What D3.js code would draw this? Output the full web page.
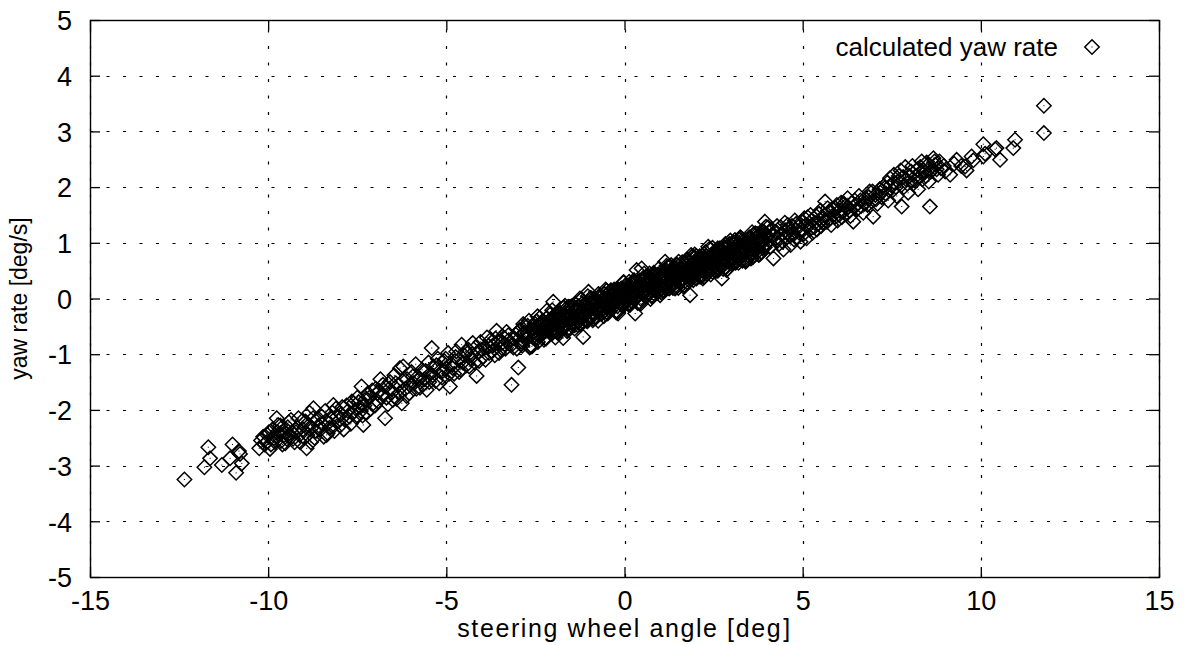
<!DOCTYPE html>
<html>
<head>
<meta charset="utf-8">
<script src="https://cdn.jsdelivr.net/npm/d3@7"></script>
<style>
  html, body { margin: 0; padding: 0; background: #fff; }
  svg { display: block; }
  text { font-family: "Liberation Sans", Arial, sans-serif; fill: #000; }
</style>
</head>
<body>
<svg id="chart" width="1186" height="645"></svg>
<script>
// Axis ticks
const xTicks = [-15, -10, -5, 0, 5, 10, 15];
const yTicks = [-5, -4, -3, -2, -1, 0, 1, 2, 3, 4, 5];

// Steering wheel angle [deg] vs. calculated yaw rate [deg/s]
const tailLeft = [
  [-12.35,-3.25],[-11.68,-2.67],[-11.63,-2.87],[-11.79,-3.03],[-11.30,-2.99],[-11.07,-2.87],
  [-11.00,-2.62],[-10.79,-2.79],[-10.74,-2.96],[-10.90,-3.13],[-10.82,-2.74]
];
const bandLow = [
  [-10.25,-2.69],[-10.14,-2.48],[-10.05,-2.58],[-9.98,-2.40],[-9.92,-2.62],[-9.85,-2.51],[-9.76,-2.15],
  [-9.72,-2.27],[-9.70,-2.45],[-9.64,-2.56],[-9.58,-2.38],[-9.52,-2.60],[-9.45,-2.31],[-9.40,-2.47],
  [-9.36,-2.18],[-9.30,-2.52],[-9.22,-2.40],[-9.15,-2.15],[-9.10,-2.58],[-9.02,-2.35],[-8.95,-2.21],
  [-8.92,-2.69],[-8.90,-2.45],[-8.84,-2.05],[-8.78,-2.32],[-8.73,-1.97],[-8.70,-2.50],[-8.62,-2.18],
  [-8.55,-2.36],[-8.48,-2.25],[-8.40,-2.02],[-8.36,-2.45],[-8.33,-2.42],[-8.25,-2.15],[-8.18,-2.30],
  [-8.17,-1.91],[-8.10,-1.98],[-8.02,-2.20],[-7.95,-2.08],[-7.88,-2.35],[-7.80,-1.92],[-7.72,-2.12],
  [-7.65,-1.85],[-7.58,-2.02],[-7.50,-1.78],[-7.42,-1.95],[-7.38,-1.58],[-7.35,-2.10],[-7.33,-2.27],
  [-7.28,-1.82],[-7.20,-1.70],[-7.12,-1.98],[-7.05,-1.88],
  [-10.20,-2.55],[-10.10,-2.62],[-10.02,-2.45],[-9.95,-2.70],[-9.88,-2.35],[-9.80,-2.58],[-9.74,-2.40],
  [-9.66,-2.28],[-9.60,-2.62],[-9.55,-2.45],[-9.48,-2.52],[-9.42,-2.22],[-9.34,-2.40],[-9.26,-2.58],
  [-9.18,-2.32],[-9.12,-2.45],[-9.05,-2.20],[-8.98,-2.50],[-8.86,-2.28],[-8.80,-2.58],[-8.74,-2.15],
  [-8.66,-2.38],[-8.58,-2.28],[-8.50,-2.12],[-8.44,-2.48],[-8.38,-2.20],[-8.28,-2.32],[-8.20,-2.05],
  [-8.14,-2.38],[-8.06,-2.12],[-7.98,-2.28],[-7.92,-1.95],[-7.84,-2.18],[-7.76,-2.02],[-7.68,-2.25],
  [-7.60,-1.88],[-7.54,-2.12],[-7.46,-1.86],[-7.40,-2.02],[-7.30,-1.92],[-7.24,-2.05],[-7.16,-1.78],
  [-7.08,-1.65],[-7.00,-1.92],[-6.94,-1.70]
];
const bandMidLow = [
  [-6.98,-1.62],[-6.92,-1.85],[-6.85,-1.45],[-6.80,-1.72],[-6.72,-2.15],[-6.70,-1.58],[-6.64,-1.90],
  [-6.58,-1.50],[-6.52,-1.68],[-6.46,-1.38],[-6.40,-1.80],[-6.35,-1.55],[-6.30,-1.25],[-6.25,-1.88],
  [-6.21,-1.22],[-6.15,-1.62],[-6.10,-1.45],[-6.04,-1.70],[-5.98,-1.32],[-5.92,-1.52],[-5.86,-1.18],
  [-5.80,-1.40],[-5.74,-1.60],[-5.68,-1.28],[-5.62,-1.45],[-5.55,-1.64],[-5.50,-1.15],[-5.45,-1.35],
  [-5.41,-0.89],[-5.36,-1.22],[-5.30,-1.48],[-5.24,-1.08],[-5.18,-1.30],[-5.12,-1.42],[-5.06,-1.12],
  [-5.00,-1.25],[-4.95,-0.98],[-4.90,-1.58],[-4.85,-1.18],[-4.78,-1.35],[-4.72,-0.95],[-4.66,-1.10],
  [-4.60,-1.28],[-4.57,-0.83],[-4.50,-1.02],[-4.44,-1.20],[-4.38,-0.92],[-4.32,-1.08],[-4.26,-0.80],
  [-4.20,-1.15],[-4.15,-1.39],[-4.10,-0.95],[-4.04,-0.78],[-3.98,-1.05],[-3.92,-0.88],[-3.86,-0.70],
  [-3.80,-0.98],[-3.77,-0.75],[-3.70,-0.85],[-3.64,-1.02],[-3.59,-0.58],[-3.54,-0.78],[-3.48,-0.92],
  [-3.42,-0.68],[-3.36,-0.82],[-3.31,-0.60],[-3.25,-0.75],[-3.17,-1.55],[-3.12,-0.88],[-3.05,-0.65],
  [-2.98,-1.24],
  [-6.88,-1.66],[-6.78,-1.55],[-6.68,-1.78],[-6.60,-1.62],[-6.50,-1.82],[-6.42,-1.52],[-6.32,-1.70],
  [-6.22,-1.48],[-6.12,-1.75],[-6.02,-1.55],[-5.94,-1.40],[-5.84,-1.62],[-5.76,-1.45],[-5.66,-1.55],
  [-5.58,-1.30],[-5.48,-1.50],[-5.38,-1.38],[-5.28,-1.20],[-5.20,-1.52],[-5.10,-1.30],[-5.02,-1.08],
  [-4.92,-1.35],[-4.82,-1.25],[-4.74,-1.05],[-4.64,-1.32],[-4.54,-1.15],[-4.46,-0.95],[-4.36,-1.22],
  [-4.28,-1.00],[-4.18,-0.88],[-4.08,-1.12],[-4.00,-0.92],[-3.90,-1.10],[-3.82,-0.85],[-3.72,-0.95],
  [-3.62,-0.72],[-3.52,-0.98],[-3.44,-0.80],[-3.34,-0.90],[-3.26,-0.66],[-3.18,-0.84],[-3.10,-0.72],
  [-3.02,-0.90]
];
const bandCore = [
  [-2.95,-0.58],[-2.90,-0.82],[-2.85,-0.66],[-2.80,-0.50],[-2.76,-0.74],[-2.71,-0.62],[-2.66,-0.88],
  [-2.62,-0.55],[-2.57,-0.70],[-2.52,-0.45],[-2.48,-0.63],[-2.43,-0.78],[-2.38,-0.52],[-2.34,-0.66],
  [-2.29,-0.40],[-2.24,-0.58],[-2.20,-0.72],[-2.15,-0.48],[-2.10,-0.61],[-2.05,-0.36],[-2.00,-0.06],
  [-1.98,-0.52],[-1.96,-0.30],[-1.93,-0.44],[-1.90,-0.60],[-1.87,-0.38],[-1.84,-0.50],[-1.80,-0.26],
  [-1.77,-0.42],[-1.74,-0.55],[-1.72,-0.71],[-1.69,-0.35],[-1.66,-0.47],[-1.62,-0.22],[-1.59,-0.40],
  [-1.56,-0.52],[-1.52,-0.30],[-1.49,-0.44],[-1.46,-0.18],[-1.43,-0.36],[-1.40,-0.48],[-1.36,-0.26],
  [-1.33,-0.40],[-1.30,-0.14],[-1.26,-0.32],[-1.23,-0.45],[-1.20,-0.22],[-1.16,-0.69],[-1.13,-0.30],
  [-1.10,-0.12],[-1.06,-0.38],[-1.03,-0.24],[-1.01,0.12],
  [-0.98,-0.08],[-0.95,-0.30],[-0.92,-0.18],[-0.89,-0.02],[-0.86,-0.26],[-0.83,-0.12],[-0.80,-0.34],
  [-0.77,-0.06],[-0.74,-0.20],[-0.71,0.04],[-0.68,-0.15],[-0.65,-0.28],[-0.62,-0.04],[-0.59,-0.18],
  [-0.56,0.08],[-0.53,-0.10],[-0.50,-0.24],[-0.47,0.02],[-0.44,-0.12],[-0.41,0.12],[-0.38,-0.04],
  [-0.35,-0.18],[-0.32,0.06],[-0.29,-0.08],[-0.26,0.15],[-0.23,-0.02],[-0.20,-0.14],[-0.18,-0.27],
  [-0.15,0.08],[-0.12,-0.05],[-0.09,0.18],[-0.06,0.02],[-0.03,-0.10],
  [0.00,0.10],[0.03,-0.04],[0.06,0.22],[0.09,0.06],[0.12,-0.08],[0.15,0.16],[0.18,0.02],[0.21,0.28],
  [0.24,0.10],[0.27,-0.02],[0.30,-0.27],[0.32,0.20],[0.34,0.51],[0.36,0.06],[0.39,0.30],[0.42,0.14],
  [0.45,0.00],[0.48,0.54],[0.50,0.24],[0.53,0.08],[0.56,0.34],[0.59,0.18],[0.62,0.04],[0.65,0.28],
  [0.68,0.12],[0.71,0.38],[0.74,0.22],[0.77,0.06],[0.80,0.32],[0.83,0.16],[0.86,0.42],[0.89,0.26],
  [0.92,0.10],[0.95,0.36],[0.98,0.20],
  [1.01,0.46],[1.04,0.30],[1.07,0.14],[1.10,0.40],[1.14,0.66],[1.16,0.24],[1.19,0.50],[1.22,0.34],
  [1.25,0.18],[1.28,0.44],[1.31,0.60],[1.34,0.28],[1.37,0.48],[1.40,0.36],[1.43,0.20],[1.46,0.54],
  [1.49,0.40],[1.52,0.66],[1.55,0.30],[1.58,0.48],[1.61,0.36],[1.64,0.58],[1.67,0.24],[1.70,0.50],
  [1.73,0.40],[1.76,0.70],[1.79,0.34],[1.82,0.56],[1.84,0.06],[1.87,0.46],[1.90,0.62],[1.93,0.38],
  [1.96,0.74],[1.99,0.50],
  [2.02,0.36],[2.05,0.60],[2.08,0.46],[2.11,0.72],[2.14,0.54],[2.17,0.40],[2.20,0.66],[2.23,0.80],
  [2.26,0.50],[2.29,0.62],[2.32,0.44],[2.35,0.93],[2.38,0.70],[2.41,0.56],[2.44,0.78],[2.47,0.48],
  [2.50,0.66],[2.53,0.84],[2.56,0.58],[2.59,0.72],[2.62,0.50],[2.65,0.88],[2.68,0.64],[2.71,0.78],
  [2.73,0.36],[2.76,0.60],[2.79,0.92],[2.82,0.70],[2.85,0.56],[2.88,0.82],[2.91,0.66],[2.94,0.98],
  [2.97,0.74],
  [3.00,0.62],[3.04,0.86],[3.08,0.72],[3.12,1.00],[3.16,0.80],[3.20,0.64],[3.24,0.92],[3.28,0.78],
  [3.32,1.06],[3.36,0.86],[3.40,0.70],[3.44,0.96],[3.48,0.82],[3.52,1.10],[3.56,0.90],[3.60,0.74],
  [3.64,1.02],[3.68,0.88],[3.72,1.16],[3.76,0.94],[3.80,0.80],[3.84,1.06],[3.88,0.90],[3.91,1.20],
  [3.94,1.38],[3.97,0.98]
];
const bandCoreExtra = [
  [-2.93,-0.56],[-2.87,-0.85],[-2.81,-0.61],[-2.74,-0.72],[-2.68,-0.40],[-2.60,-0.86],[-2.54,-0.59],
  [-2.46,-0.41],[-2.40,-0.67],[-2.32,-0.45],[-2.26,-0.74],[-2.18,-0.22],[-2.12,-0.52],[-2.07,-0.37],
  [-2.02,-0.62],[-1.97,-0.42],[-1.91,-0.29],[-1.85,-0.61],[-1.79,-0.34],[-1.73,-0.48],[-1.67,-0.13],
  [-1.61,-0.59],[-1.55,-0.32],[-1.49,-0.14],[-1.43,-0.45],[-1.37,-0.23],[-1.31,-0.48],[-1.25,0.00],
  [-1.19,-0.31],[-1.13,-0.11],[-1.07,-0.40],[-1.01,-0.20],[-0.95,0.01],[-0.89,-0.39],[-0.83,-0.08],
  [-0.77,-0.24],[-0.71,0.03],[-0.65,-0.27],[-0.59,-0.06],[-0.53,0.16],[-0.47,-0.27],[-0.41,0.05],
  [-0.35,-0.12],[-0.29,0.16],[-0.23,-0.25],[-0.17,0.03],[-0.11,0.16],[-0.05,-0.14],[0.01,0.13],
  [0.07,-0.03],[0.13,0.30],[0.19,-0.04],[0.25,0.15],[0.31,0.29],[0.37,-0.08],[0.43,0.22],[0.49,0.11],
  [0.55,0.45],[0.61,0.04],[0.67,0.32],[0.73,-0.01],[0.79,0.27],[0.85,0.44],[0.91,0.16],[0.97,0.37],
  [1.03,0.11],[1.09,0.46],[1.15,0.30],[1.21,0.57],[1.27,0.19],[1.33,0.44],[1.39,0.30],[1.45,0.61],
  [1.51,0.19],[1.57,0.44],[1.63,0.58],[1.69,0.31],[1.75,0.53],[1.81,0.42],[1.87,0.78],[1.93,0.33],
  [1.99,0.65],[2.05,0.44],[2.11,0.76],[2.17,0.57],[2.23,0.39],[2.29,0.76],[2.35,0.66],[2.41,0.51],
  [2.47,0.91],[2.53,0.60],[2.59,0.78],[2.65,0.53],[2.71,0.89],[2.77,0.70],[2.83,0.98],[2.89,0.53],
  [2.95,0.85],[3.01,0.70],[3.07,1.00],[3.13,0.67],[3.19,0.89],[3.25,1.10],[3.31,0.68],[3.37,0.99],
  [3.43,0.85],[3.49,1.08],[3.55,0.72],[3.61,0.97],[3.67,1.17],[3.73,0.84],[3.79,1.08],[3.85,0.83],
  [3.91,1.15],[3.97,0.98],[4.03,1.28],[4.09,0.93],[4.15,1.15],
  [-2.90,-0.78],[-2.84,-0.46],[-2.78,-0.67],[-2.72,-0.49],[-2.66,-0.86],[-2.58,-0.52],[-2.51,-0.72],
  [-2.44,-0.32],[-2.36,-0.60],[-2.30,-0.41],[-2.22,-0.71],[-2.16,-0.47],[-2.09,-0.29],[-2.04,-0.58],
  [-1.99,-0.39],[-1.94,-0.70],[-1.88,-0.26],[-1.82,-0.49],[-1.76,-0.35],[-1.70,-0.16],[-1.64,-0.46],
  [-1.58,-0.15],[-1.52,-0.35],[-1.46,-0.18],[-1.40,-0.54],[-1.34,-0.21],[-1.28,-0.41],[-1.22,-0.02],
  [-1.16,-0.30],[-1.10,-0.11],[-1.04,-0.41],[-0.98,-0.18],[-0.92,0.00],[-0.86,-0.29],[-0.80,-0.09],
  [-0.74,-0.40],[-0.68,0.04],[-0.62,-0.19],[-0.56,-0.05],[-0.50,0.14],[-0.44,-0.16],[-0.38,0.15],
  [-0.32,-0.05],[-0.26,0.12],[-0.20,-0.24],[-0.14,0.10],[-0.08,-0.11],[-0.02,0.29],[0.04,0.00],
  [0.10,0.20],[0.16,-0.11],[0.22,0.13],[0.28,0.30],[0.34,0.02],[0.40,0.21],[0.46,-0.09],[0.52,0.34],
  [0.58,0.12],[0.64,0.25],[0.70,0.45],[0.76,0.14],[0.82,0.46],[0.88,0.25],[0.94,0.43],[1.00,0.06],
  [1.06,0.40],[1.12,0.19],[1.18,0.59],[1.24,0.30],[1.30,0.50],[1.36,0.19],[1.42,0.43],[1.48,0.60],
  [1.54,0.32],[1.60,0.51],[1.66,0.21],[1.72,0.64],[1.78,0.42],[1.84,0.55],[1.90,0.75],[1.96,0.44],
  [2.02,0.76],[2.08,0.55],[2.14,0.73],[2.20,0.36],[2.26,0.70],[2.32,0.49],[2.38,0.89],[2.44,0.60],
  [2.50,0.80],[2.56,0.49],[2.62,0.73],[2.68,0.90],[2.74,0.62],[2.80,0.81],[2.86,0.51],[2.92,0.94],
  [2.98,0.72],[3.04,0.85],[3.10,1.05],[3.16,0.74],[3.22,1.06],[3.28,0.85],[3.34,1.03],[3.40,0.66],
  [3.46,1.00],[3.52,0.79],[3.58,1.19],[3.64,0.90],[3.70,1.10],[3.76,0.79],[3.82,1.03],[3.88,1.20],
  [3.94,0.92],[4.00,1.11],
  [-2.48,-0.52],[-2.43,-0.71],[-2.38,-0.35],[-2.33,-0.56],[-2.28,-0.41],[-2.23,-0.72],[-2.18,-0.35],
  [-2.13,-0.57],[-2.08,-0.46],[-2.03,-0.21],[-1.98,-0.57],[-1.93,-0.36],[-1.88,-0.61],[-1.83,-0.28],
  [-1.78,-0.40],[-1.73,-0.17],[-1.68,-0.48],[-1.63,-0.27],[-1.58,-0.57],[-1.53,-0.30],[-1.48,-0.27],
  [-1.43,-0.46],[-1.38,-0.10],[-1.33,-0.31],[-1.28,-0.16],[-1.23,-0.47],[-1.18,-0.09],[-1.13,-0.32],
  [-1.08,-0.21],[-1.03,0.04],[-0.98,-0.32],[-0.93,-0.11],[-0.88,-0.36],[-0.83,-0.03],[-0.78,-0.15],
  [-0.73,0.08],[-0.68,-0.23],[-0.63,-0.02],[-0.58,-0.32],[-0.53,-0.05],[-0.48,-0.02],[-0.43,-0.21],
  [-0.38,0.14],[-0.33,-0.06],[-0.28,0.09],[-0.23,-0.22],[-0.18,0.16],[-0.13,-0.07],[-0.08,0.04],
  [-0.03,0.29],[0.02,-0.08],[0.07,0.14],[0.12,-0.11],[0.17,0.22],[0.22,0.10],[0.27,0.33],[0.32,0.02],
  [0.37,0.23],[0.42,-0.08],[0.47,0.20],[0.52,0.23],[0.57,0.04],[0.62,0.40],[0.67,0.19],[0.72,0.34],
  [0.77,0.03],[0.82,0.41],[0.87,0.18],[0.92,0.29],[0.97,0.54],[1.02,0.18],[1.07,0.39],[1.12,0.14],
  [1.17,0.47],[1.22,0.35],[1.27,0.58],[1.32,0.27],[1.37,0.48],[1.42,0.18],[1.47,0.45],[1.52,0.48],
  [1.57,0.29],[1.62,0.65],[1.67,0.44],[1.72,0.59],[1.77,0.28],[1.82,0.66],[1.87,0.43],[1.92,0.54],
  [1.97,0.79],[2.02,0.43],[2.07,0.64],[2.12,0.39],[2.17,0.72],[2.22,0.60],[2.27,0.83],[2.32,0.52],
  [2.37,0.73],[2.42,0.43],[2.47,0.70],[2.52,0.73],[2.57,0.54],[2.62,0.90],[2.67,0.69],[2.72,0.84],
  [2.77,0.53],[2.82,0.91],[2.87,0.68],[2.92,0.79],[2.97,1.04],[3.02,0.68],[3.07,0.89],[3.12,0.64],
  [3.17,0.97],[3.22,0.85],[3.27,1.08],[3.32,0.77],[3.37,0.98],[3.42,0.68],[3.47,0.95],[3.52,0.98],
  [3.57,0.79],[3.62,1.15],[3.67,0.94],[3.72,1.09],[3.77,0.78],[3.82,1.16],[3.87,0.93],[3.92,1.04],
  [3.97,1.29]
];
const bandMidHigh = [
  [4.02,1.12],[4.08,0.92],[4.14,1.24],[4.18,0.72],[4.22,1.06],[4.28,1.30],[4.34,0.98],[4.40,1.16],
  [4.46,0.88],[4.50,1.36],[4.55,1.10],[4.61,1.26],[4.66,0.96],[4.72,1.18],[4.78,1.40],[4.83,1.08],
  [4.88,1.28],[4.94,1.02],[5.00,1.22],[5.05,1.44],[5.11,1.08],[5.16,1.30],[5.22,1.50],[5.28,1.18],
  [5.34,1.36],[5.40,1.24],[5.46,1.52],[5.52,1.30],[5.58,1.44],[5.63,1.74],[5.68,1.38],[5.74,1.56],
  [5.80,1.32],[5.86,1.50],[5.92,1.62],[5.98,1.40],[6.04,1.58],[6.10,1.46],[6.16,1.70],[6.22,1.52],
  [6.28,1.64],[6.34,1.48],[6.42,1.38],[6.46,1.76],[6.52,1.60],[6.58,1.84],[6.64,1.66],[6.70,1.54],
  [6.76,1.80],[6.82,1.68],[6.88,1.92],[6.94,1.74],[6.98,1.47],[7.04,1.86],[7.10,1.70],[7.16,1.96],
  [7.22,1.82],[7.28,2.02],[7.34,1.88],[7.40,1.76],
  [4.25,1.20],[4.32,1.08],[4.38,1.28],[4.44,1.02],[4.52,1.22],[4.58,1.32],[4.64,1.12],[4.70,1.30],
  [4.76,1.06],[4.82,1.34],[4.90,1.18],[4.97,1.38],[5.03,1.16],[5.09,1.32],[5.14,1.46],[5.20,1.24],
  [5.26,1.40],[5.32,1.28],[5.38,1.48],[5.44,1.34],[5.50,1.58],[5.56,1.36],[5.62,1.50],[5.70,1.62],
  [5.77,1.44],[5.84,1.60],[5.90,1.46],[5.96,1.68],[6.02,1.50],[6.08,1.72],[6.14,1.56],[6.20,1.66],
  [6.26,1.80],[6.32,1.58],[6.38,1.72],[6.50,1.68],[6.62,1.76],[6.74,1.70],[6.86,1.82],[6.96,1.92],
  [7.06,1.78],[7.18,1.90],[7.30,1.98],[7.38,2.08]
];
const tailRight = [
  [7.45,2.16],[7.52,1.94],[7.58,2.08],[7.64,1.84],[7.70,2.20],[7.78,1.65],[7.84,2.00],[7.90,2.14],
  [7.96,1.90],[8.04,2.28],[8.10,2.06],[8.18,2.20],[8.24,1.96],[8.30,2.36],[8.36,2.14],[8.42,2.26],
  [8.48,2.44],[8.54,2.10],[8.57,1.65],[8.62,2.30],[8.67,2.52],[8.72,2.40],[8.80,2.22],[8.88,2.34],
  [9.00,2.28],[9.14,2.22],[9.25,2.42],[9.32,2.49],[9.45,2.38],[9.56,2.37],[9.60,2.30],[9.74,2.55],
  [9.79,2.48],[10.07,2.77],[10.07,2.55],[10.12,2.60],[10.40,2.68],[10.44,2.70],[10.54,2.49],
  [10.91,2.70],[10.96,2.85],[11.77,3.46],[11.77,2.97],
  [7.48,2.04],[7.56,2.22],[7.62,2.00],[7.68,2.10],[7.75,2.30],[7.82,2.18],[7.88,2.36],[7.94,2.06],
  [8.00,2.20],[8.08,2.38],[8.14,2.12],[8.22,2.32],[8.28,2.18],[8.34,2.46],[8.40,2.30],[8.46,2.20],
  [8.52,2.40],[8.60,2.28],[8.70,2.46],[8.76,2.32],[8.84,2.46],[8.96,2.38]
];

const points = [].concat(tailLeft, bandLow, bandMidLow, bandCore, bandCoreExtra, bandMidHigh, tailRight);

const svg = d3.select("#chart");
const plot = { left: 90, right: 1159, top: 20, bottom: 577 };

const x = d3.scaleLinear().domain([-15, 15]).range([plot.left, plot.right]);
const y = d3.scaleLinear().domain([-5, 5]).range([plot.bottom, plot.top]);

// Dotted grid at every major tick
const grid = svg.append("g")
  .attr("stroke", "#000").attr("stroke-width", 1.2)
  .attr("stroke-dasharray", "3,13.5").attr("fill", "none");
grid.selectAll("line.gx").data(xTicks).join("line").attr("class", "gx")
  .attr("x1", d => Math.round(x(d)) + 0.5).attr("x2", d => Math.round(x(d)) + 0.5)
  .attr("y1", plot.bottom).attr("y2", plot.top);
grid.selectAll("line.gy").data(yTicks).join("line").attr("class", "gy")
  .attr("y1", d => Math.round(y(d)) + 0.5).attr("y2", d => Math.round(y(d)) + 0.5)
  .attr("x1", plot.left).attr("x2", plot.right);

// Inward tick marks on all four sides; labels use a plain hyphen-minus
const tickLen = 10;
const fmt = d => String(d);
const axisBottom = d3.axisBottom(x).tickValues(xTicks).tickSize(-tickLen).tickFormat(fmt).tickPadding(14);
const axisTop = d3.axisTop(x).tickValues(xTicks).tickSize(-tickLen).tickFormat("");
const axisLeft = d3.axisLeft(y).tickValues(yTicks).tickSize(-tickLen).tickFormat(fmt).tickPadding(18);
const axisRight = d3.axisRight(y).tickValues(yTicks).tickSize(-tickLen).tickFormat("");

function styleAxis(g) {
  g.select(".domain").remove();
  g.selectAll(".tick line").attr("stroke", "#000").attr("stroke-width", 1.3);
  g.selectAll(".tick text")
    .attr("font-family", "'Liberation Sans', Arial, sans-serif")
    .attr("font-size", 27).attr("fill", "#000");
}

svg.append("g").attr("transform", `translate(0,${plot.bottom})`).call(axisBottom).call(styleAxis)
  .selectAll(".tick text").attr("dy", "0.71em");
svg.append("g").attr("transform", `translate(0,${plot.top})`).call(axisTop).call(styleAxis);
svg.append("g").attr("transform", `translate(${plot.left},0)`).call(axisLeft).call(styleAxis)
  .selectAll(".tick text").attr("dy", "0.36em");
svg.append("g").attr("transform", `translate(${plot.right},0)`).call(axisRight).call(styleAxis);

// Frame
svg.append("rect")
  .attr("x", plot.left + 0.5).attr("y", plot.top + 0.5)
  .attr("width", plot.right - plot.left).attr("height", plot.bottom - plot.top)
  .attr("fill", "none").attr("stroke", "#000").attr("stroke-width", 1.4);

// Diamond marker with centre dot
const r = 7.2;
function drawMarker(g, cx, cy) {
  g.append("path")
    .attr("d", `M${cx},${cy - r}L${cx + r},${cy}L${cx},${cy + r}L${cx - r},${cy}Z`)
    .attr("fill", "none").attr("stroke", "#000").attr("stroke-width", 1.5);
  g.append("rect").attr("x", cx - 0.5).attr("y", cy - 0.5).attr("width", 1).attr("height", 1).attr("fill", "#000");
}

const marks = svg.append("g");
points.forEach(([px, py]) => drawMarker(marks, x(px), y(py)));

// Legend
const legend = svg.append("g");
legend.append("text").attr("x", 1058).attr("y", 56).attr("text-anchor", "end")
  .attr("font-size", 26).text("calculated yaw rate");
drawMarker(legend, 1092, 47);

// Axis titles; the x title is set with wider spacing
const xTitle = svg.append("text").attr("x", (plot.left + plot.right) / 2).attr("y", 637)
  .attr("text-anchor", "middle").attr("font-size", 25)
  .attr("letter-spacing", 1.6);
xTitle.append("tspan").text("steering wheel angle [deg");
xTitle.append("tspan").attr("dx", 1).text("]");
svg.append("text")
  .attr("transform", `translate(27,${(plot.top + plot.bottom) / 2}) rotate(-90)`)
  .attr("text-anchor", "middle").attr("font-size", 23).text("yaw rate [deg/s]");
</script>
</body>
</html>
